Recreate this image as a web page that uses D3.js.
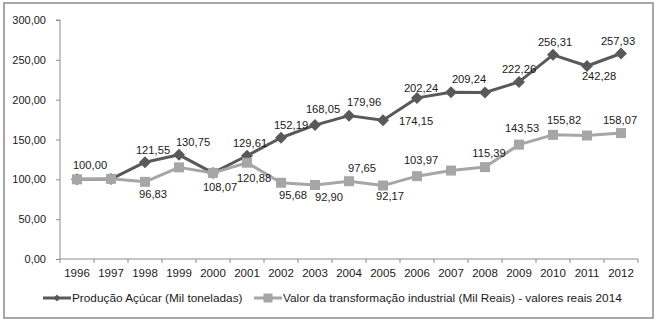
<!DOCTYPE html>
<html>
<head>
<meta charset="utf-8">
<script src="https://cdn.jsdelivr.net/npm/d3@7"></script>
<style>
  body { margin: 0; background: #fff; }
  text { font-family: "Liberation Sans", Arial, sans-serif; fill: #1a1a1a; }
</style>
</head>
<body>
<div id="chart"></div>
<script>
const years = ["1996","1997","1998","1999","2000","2001","2002","2003","2004","2005","2006","2007","2008","2009","2010","2011","2012"];
const producao = [100.00, 100.3, 121.55, 130.75, 108.07, 129.61, 152.19, 168.05, 179.96, 174.15, 202.24, 209.24, 209.0, 222.26, 256.31, 242.28, 257.93];
const valor = [100.00, 100.6, 96.83, 115.0, 108.07, 120.88, 95.68, 92.90, 97.65, 92.17, 103.97, 111.0, 115.39, 143.53, 155.82, 155.0, 158.07];
// which points carry a data label (null = no label)
const producaoLabels = ["100,00", null, "121,55", "130,75", null, "129,61", "152,19", "168,05", "179,96", "174,15", "202,24", "209,24", null, "222,26", "256,31", "242,28", "257,93"];
const valorLabels = [null, null, "96,83", null, "108,07", "120,88", "95,68", "92,90", "97,65", "92,17", "103,97", null, "115,39", "143,53", "155,82", null, "158,07"];
const yTicks = [0, 50, 100, 150, 200, 250, 300];
const seriesNames = ["Produção Açúcar (Mil toneladas)", "Valor da transformação industrial (Mil Reais) - valores reais 2014"];

// label offsets (dx, dy) relative to the point, as placed in the original
const producaoOffsets = [[13,-14],[0,0],[8,-12],[14,-13],[0,0],[3,-13],[10,-13],[8,-16],[15,-14],[33,1],[4,-10],[18,-13],[0,0],[0,-13],[2,-13],[12,10],[-3,-12]];
const valorOffsets = [[0,0],[0,0],[8,12],[0,0],[7,14],[7,15],[12,12],[14,12],[13,-13],[7,11],[4,-16],[0,0],[4,-14],[3,-17],[11,-15],[0,0],[-1,-13]];

const W = 661, H = 323;
const darkColor = "#595959", lightColor = "#a6a6a6", axisColor = "#8c8c8c";

const svg = d3.select("#chart").append("svg")
  .attr("width", W)
  .attr("height", H);

// outer frame
svg.append("rect")
  .attr("x", 4).attr("y", 3)
  .attr("width", 649).attr("height", 315)
  .attr("fill", "#fff")
  .attr("stroke", "#8a8a8a")
  .attr("stroke-width", 1.5);

const x = d3.scaleBand().domain(years).range([60, 638]).padding(0);
const y = d3.scaleLinear().domain([0, 300]).range([259, 20]);

const ptFmt = d3.formatLocale({ decimal: ",", thousands: ".", grouping: [3], currency: ["", ""] }).format(".2f");

// y axis
const yAxis = svg.append("g")
  .attr("transform", "translate(60,0)")
  .call(d3.axisLeft(y).tickValues(yTicks).tickFormat(ptFmt).tickSize(4).tickPadding(10));
yAxis.select(".domain").attr("stroke", axisColor).attr("d", `M-4,${y(300)}H0V${y(0)}`);
yAxis.selectAll(".tick line").attr("stroke", axisColor);
yAxis.selectAll(".tick text").style("font-size", "11px").attr("fill", "#1a1a1a").attr("font-family", null);

// x axis: labels centred on bands, ticks on band boundaries
const xAxis = svg.append("g")
  .attr("transform", `translate(0,${y(0)})`)
  .call(d3.axisBottom(x).tickSize(0).tickPadding(10));
xAxis.select(".domain").attr("stroke", axisColor).attr("d", `M60,0H638`);
xAxis.selectAll(".tick text").style("font-size", "11.5px").attr("fill", "#1a1a1a").attr("font-family", null);
const bounds = years.map(d => x(d)).concat([x.range()[1]]);
xAxis.selectAll(".bound")
  .data(bounds)
  .enter().append("line")
  .attr("x1", d => d).attr("x2", d => d)
  .attr("y1", 0).attr("y2", 4)
  .attr("stroke", axisColor);

const cx = d => x(d) + x.bandwidth() / 2;
const line = d3.line().x(d => cx(d.year)).y(d => y(d.value));

function drawSeries(values, color, marker) {
  const pts = years.map((yr, i) => ({ year: yr, value: values[i] }));
  const g = svg.append("g");
  g.append("path")
    .datum(pts)
    .attr("fill", "none")
    .attr("stroke", color)
    .attr("stroke-width", 3)
    .attr("stroke-linejoin", "round")
    .attr("d", line);
  g.selectAll(".m")
    .data(pts)
    .enter().append("path")
    .attr("transform", d => `translate(${cx(d.year)},${y(d.value)})`)
    .attr("d", marker)
    .attr("fill", color);
  return pts;
}

const diamond = "M0,-6L6,0L0,6L-6,0Z";
const square = "M-5,-5H5V5H-5Z";

const pPts = drawSeries(producao, darkColor, diamond);
const vPts = drawSeries(valor, lightColor, square);

function drawLabels(pts, labels, offsets) {
  svg.append("g").selectAll("text")
    .data(pts.map((p, i) => ({ p, label: labels[i], off: offsets[i] })).filter(d => d.label))
    .enter().append("text")
    .attr("x", d => cx(d.p.year) + d.off[0])
    .attr("y", d => y(d.p.value) + d.off[1])
    .attr("dy", "0.35em")
    .attr("text-anchor", "middle")
    .style("font-size", "11.2px")
    .text(d => d.label);
}
drawLabels(pPts, producaoLabels, producaoOffsets);
drawLabels(vPts, valorLabels, valorOffsets);

// legend
const legend = svg.append("g").attr("transform", "translate(0,298)");
const items = [
  { name: seriesNames[0], color: darkColor, marker: "M0,-3.5L3.5,0L0,3.5L-3.5,0Z", x0: 43 },
  { name: seriesNames[1], color: lightColor, marker: "M-4.5,-4.5H4.5V4.5H-4.5Z", x0: 254 }
];
items.forEach(it => {
  legend.append("line")
    .attr("x1", it.x0).attr("x2", it.x0 + 28)
    .attr("y1", 0).attr("y2", 0)
    .attr("stroke", it.color).attr("stroke-width", 3);
  legend.append("path")
    .attr("transform", `translate(${it.x0 + 14},0)`)
    .attr("d", it.marker)
    .attr("fill", it.color);
  legend.append("text")
    .attr("x", it.x0 + 29)
    .attr("y", 0)
    .attr("dy", "0.35em")
    .style("font-size", "11.8px")
    .text(it.name);
});
</script>
</body>
</html>
